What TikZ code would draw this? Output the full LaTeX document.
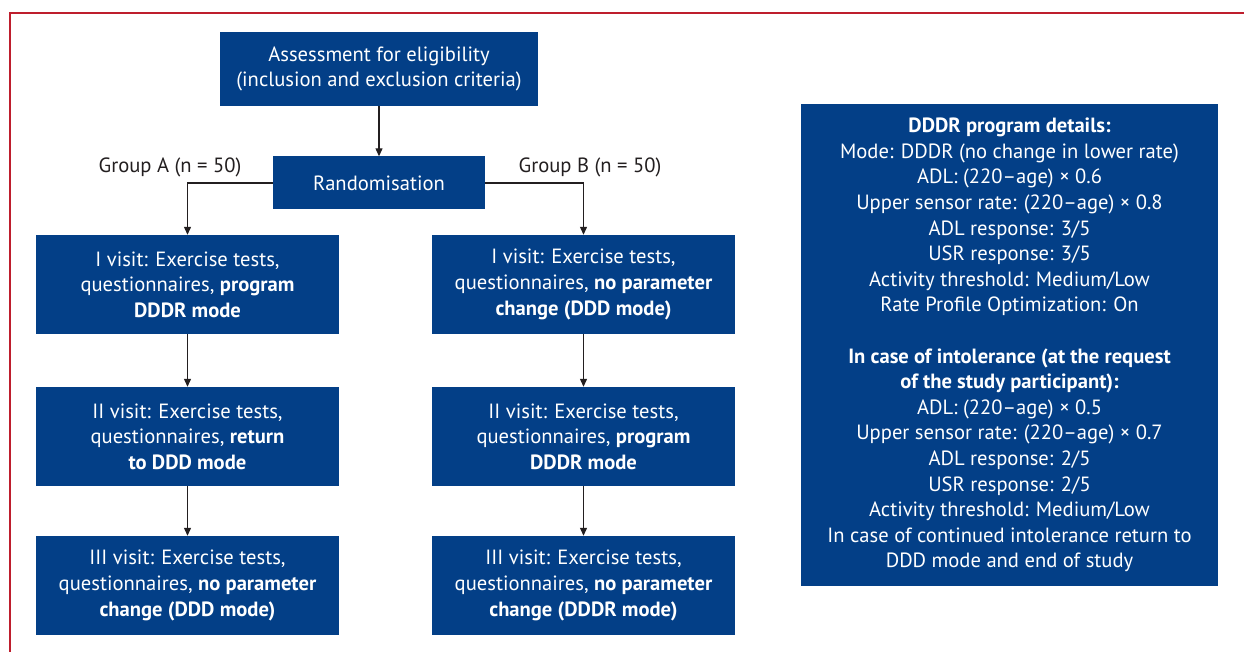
\documentclass[tikz,border=0pt]{standalone}
\usepackage{fontspec}
\setmainfont{PT Sans}
\usetikzlibrary{arrows.meta, positioning, calc}
\definecolor{boxblue}{RGB}{3, 63, 135}
\definecolor{framered}{RGB}{190, 30, 45}
\definecolor{linegray}{RGB}{35, 31, 32}

\begin{document}
\begin{tikzpicture}[x=1pt, y=-1pt,
  box/.style={fill=boxblue, text=white, align=center, inner sep=0pt,
    font=\fontsize{20.6}{25.6}\selectfont},
  visit/.style={box, minimum width=303pt, minimum height=99pt},
  flow/.style={draw=linegray, line width=1.2pt, -{Triangle[length=8pt, width=7pt]}},
  grp/.style={text=linegray, font=\fontsize{20.6}{25.6}\selectfont}]
  \useasboundingbox (0,0) rectangle (1244,652);
  % frame
  \draw[framered, line width=1.5pt] (10,652) -- (10,13) -- (1244,13);

  % top of the flow
  \node[box, minimum width=318pt, minimum height=74pt] (assess) at (379,69)
    {Assessment for eligibility\\(inclusion and exclusion criteria)};
  \node[box, minimum width=212pt, minimum height=53pt] (rand) at (379,183) {Randomisation};
  \node[grp] (grpA) at (170,167) {Group A (n = 50)};
  \node[grp] (grpB) at (590,167) {Group B (n = 50)};

  % Group A
  \node[visit] (a1) at (187.5,284.5) {I visit: Exercise tests,\\questionnaires, \textbf{program}\\\textbf{DDDR mode}};
  \node[visit] (a2) at (187.5,436.5) {II visit: Exercise tests,\\questionnaires, \textbf{return}\\\textbf{to DDD mode}};
  \node[visit] (a3) at (187.5,585.5) {III visit: Exercise tests,\\questionnaires, \textbf{no parameter}\\\textbf{change (DDD mode)}};

  % Group B
  \node[visit] (b1) at (583.5,284.5) {I visit: Exercise tests,\\questionnaires, \textbf{no parameter}\\\textbf{change (DDD mode)}};
  \node[visit] (b2) at (583.5,436.5) {II visit: Exercise tests,\\questionnaires, \textbf{program}\\\textbf{DDDR mode}};
  \node[visit] (b3) at (583.5,585.5) {III visit: Exercise tests,\\questionnaires, \textbf{no parameter}\\\textbf{change (DDDR mode)}};

  % program details
  \node[box, minimum width=417pt, minimum height=482pt] (details) at (1009.5,345) {
    \textbf{DDDR program details:}\\
    Mode: DDDR (no change in lower rate)\\
    ADL: (220–age) × 0.6\\
    Upper sensor rate: (220–age) × 0.8\\
    ADL response: 3/5\\
    USR response: 3/5\\
    Activity threshold: Medium/Low\\
    Rate Profile Optimization: On\\[25.6pt]
    \textbf{In case of intolerance (at the request}\\
    \textbf{of the study participant):}\\
    ADL: (220–age) × 0.5\\
    Upper sensor rate: (220–age) × 0.7\\
    ADL response: 2/5\\
    USR response: 2/5\\
    Activity threshold: Medium/Low\\
    In case of continued intolerance return to\\
    DDD mode and end of study};

  % connectors
  \draw[flow] (assess) -- (rand);
  \draw[flow] (rand.west) -| (a1.north);
  \draw[flow] (rand.east) -| (b1.north);
  \draw[flow] (a1) -- (a2);
  \draw[flow] (a2) -- (a3);
  \draw[flow] (b1) -- (b2);
  \draw[flow] (b2) -- (b3);
\end{tikzpicture}
\end{document}
